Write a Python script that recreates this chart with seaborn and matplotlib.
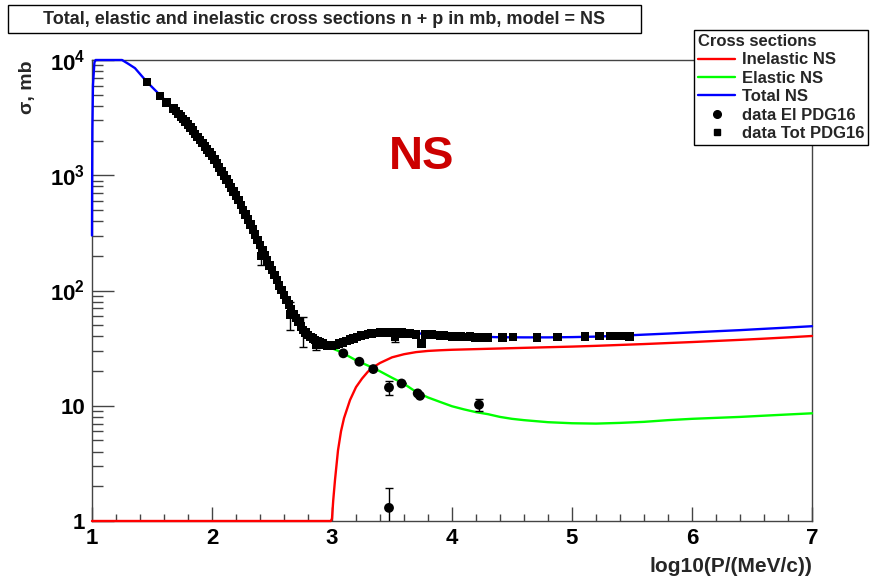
import numpy as np
import pandas as pd
import matplotlib
matplotlib.use("Agg")
import matplotlib.pyplot as plt
import seaborn as sns
from matplotlib.lines import Line2D
from matplotlib.patches import Rectangle
from matplotlib.ticker import FixedLocator, MultipleLocator, FixedFormatter, NullFormatter

# ---------------- data ----------------
inel_x = [1.0, 2.0, 2.99, 3.0, 3.01, 3.025, 3.05, 3.075, 3.1, 3.15, 3.2, 3.25, 3.3, 3.35,
          3.4, 3.5, 3.6, 3.7, 3.8, 3.9, 4.0, 4.2, 4.4, 4.6, 4.8, 5.0, 5.2, 5.4, 5.6,
          5.8, 6.0, 6.2, 6.4, 6.6, 6.8, 7.0]
inel_y = [1.0, 1.0, 1.0, 1.05, 1.5, 2.27, 4.1, 6.0, 7.8, 11.2, 14.5, 17.2, 19.8, 21.8,
          23.5, 26.3, 28.0, 29.2, 29.9, 30.3, 30.6, 31.0, 31.4, 31.8, 32.2, 32.6, 33.1, 33.7, 34.3,
          35.0, 35.7, 36.5, 37.3, 38.2, 39.2, 40.3]

el_x = [2.95, 3.0, 3.05, 3.1, 3.15, 3.2, 3.3, 3.4, 3.5, 3.6, 3.7, 3.8, 3.9, 4.0, 4.1,
        4.2, 4.3, 4.4, 4.5, 4.6, 4.8, 5.0, 5.2, 5.4, 5.6, 5.8, 6.0, 6.2, 6.4, 6.6, 6.8, 7.0]
el_y = [33.5, 31.5, 30.0, 28.3, 26.5, 24.8, 22.3, 19.9, 17.5, 15.5, 13.2, 11.8, 10.8, 9.9, 9.3,
        8.8, 8.45, 8.0, 7.7, 7.5, 7.2, 7.05, 7.0, 7.1, 7.25, 7.5, 7.7, 7.85, 8.0, 8.2, 8.4, 8.6]

tot_x = [1.0, 1.001, 1.003, 1.008, 1.02, 1.03, 1.1, 1.2, 1.25, 1.3, 1.358, 1.458, 1.583, 1.667,
         1.8, 2.0, 2.2, 2.3, 2.4, 2.5, 2.6, 2.7, 2.8, 2.9, 2.95, 3.0, 3.1, 3.2, 3.3, 3.4, 3.5,
         3.6, 3.7, 3.8, 3.9, 4.0, 4.2, 4.4, 4.6, 4.8, 5.0, 5.2, 5.4, 5.6, 5.8, 6.0, 6.2, 6.4,
         6.6, 6.8, 7.0]
tot_y = [300, 800, 2500, 6000, 9500, 10000, 10000, 10000, 10000, 9300, 8500, 6445, 4775, 3831,
         2754, 1479, 668, 411, 248, 150, 91.4, 57.7, 41.2, 35.3, 34.0, 33.5, 35.8, 39.0, 42.0, 43.2, 43.5,
         43.2, 42.6, 41.8, 41.1, 40.5, 39.8, 39.3, 39.2, 39.2, 39.4, 39.8, 40.5, 41.4, 42.3, 43.3, 44.3, 45.3,
         46.5, 47.7, 49.0]

# data Tot PDG16
dtot_x = [1.458, 1.567, 1.622, 1.678,
          1.70, 1.72, 1.74, 1.76, 1.78, 1.80, 1.82, 1.84, 1.86, 1.88, 1.90, 1.92, 1.94, 1.96, 1.98,
          2.00, 2.02, 2.04, 2.06, 2.08, 2.10, 2.12, 2.14, 2.16, 2.18, 2.20, 2.22, 2.24, 2.26, 2.28,
          2.30, 2.32, 2.34, 2.36, 2.38, 2.40, 2.42, 2.44, 2.46, 2.48, 2.50, 2.52, 2.54, 2.56, 2.58,
          2.60, 2.62, 2.64, 2.66, 2.68, 2.70, 2.72, 2.74, 2.76, 2.78, 2.80, 2.82, 2.84, 2.86, 2.88,
          2.90, 2.92, 2.94, 2.96, 2.98,
          3.00, 3.03, 3.06, 3.09, 3.12, 3.15, 3.18, 3.21, 3.24, 3.27, 3.30, 3.33, 3.37, 3.40, 3.43, 3.46,
          3.52, 3.55, 3.58, 3.62, 3.65, 3.70, 3.747, 3.78, 3.80, 3.83, 3.86, 3.90, 3.93, 3.96, 4.00,
          4.04, 4.07, 4.11, 4.15, 4.19, 4.23, 4.30, 4.42, 4.51, 4.71, 4.88, 5.11, 5.23, 5.32, 5.35,
          5.38, 5.43, 5.48]
dtot_y = [6445, 4870, 4295, 3812,
          3597, 3412, 3236, 3069, 2911, 2754, 2588, 2432, 2286, 2148, 2018, 1897, 1782, 1675, 1574,
          1479, 1371, 1265, 1167, 1079, 995, 918, 849, 783, 723, 668, 610, 552, 501, 454,
          411, 373, 338, 305, 275, 248, 224, 202, 182, 165, 150, 136, 123, 111, 101,
          91.4, 83.0, 75.3, 68.4, 62.7, 57.7, 53.1, 48.5, 45.5, 43.0, 41.2, 39.6, 38.3, 37.2, 36.2,
          35.3, 34.5, 33.8, 33.3, 33.0,
          33.2, 33.6, 34.5, 35.5, 36.5, 37.5, 38.5, 39.5, 40.5, 41.2, 41.8, 42.3, 42.8, 43.0, 43.2, 43.0,
          43.5, 42.5, 43.8, 42.0, 42.5, 41.5, 34.8, 41.5, 41.8, 41.5, 41.0, 40.8, 40.5, 40.2, 40.0,
          40.3, 39.8, 39.5, 39.8, 39.2, 39.0, 39.3, 39.0, 39.5, 39.2, 39.6, 40.0, 40.2, 40.3, 40.3,
          40.3, 40.2, 39.8]

# total data points carrying visible error bars
etot_x = [2.41, 2.65, 2.76, 2.87, 3.525]
etot_y = [200, 62, 45.5, 34, 39.5]
etot_err = [35, 17, 13, 3.8, 4]

# data El PDG16
del_x = [3.094, 3.228, 3.344, 3.475, 3.475, 3.58, 3.714, 3.733, 4.225]
del_y = [28.5, 24.1, 20.8, 14.4, 1.30, 15.6, 12.8, 12.2, 10.2]
del_err = [0, 0, 0, 2.1, 0.62, 0, 0, 0, 1.25]

x_ticks = [1, 2, 3, 4, 5, 6, 7]
y_ticks = [1, 10, 100, 1000, 10000]
y_ticklabels = ["1", "10", r"$\mathbf{10^{2}}$", r"$\mathbf{10^{3}}$", r"$\mathbf{10^{4}}$"]

title = "Total, elastic and inelastic cross sections n + p in mb, model = NS"
legend_labels = ["Inelastic NS", "Elastic NS", "Total NS", "data El PDG16", "data Tot PDG16"]

# ---------------- style ----------------
sns.set_theme(style="white")
plt.rcParams['font.family'] = ['Liberation Sans', 'DejaVu Sans']
plt.rcParams['font.weight'] = 'bold'
plt.rcParams['mathtext.fontset'] = 'custom'
plt.rcParams['mathtext.rm'] = 'Liberation Sans:bold'
plt.rcParams['mathtext.bf'] = 'Liberation Sans:bold'
plt.rcParams['mathtext.it'] = 'Liberation Sans:bold:italic'

W, H = 871, 577
fig = plt.figure(figsize=(W / 100, H / 100), dpi=100)
fig.patch.set_facecolor('white')
ax = fig.add_axes([92 / W, 1 - 521 / H, (812 - 92) / W, (521 - 60) / H])
ax.set_facecolor('white')

RED, GREEN, BLUE = '#ff0000', '#00ff00', '#0000ff'
lw = 1.7
sns.lineplot(x=inel_x, y=inel_y, ax=ax, color=RED, lw=lw, estimator=None, sort=False, clip_on=False, zorder=3)
sns.lineplot(x=el_x, y=el_y, ax=ax, color=GREEN, lw=lw, estimator=None, sort=False, clip_on=False, zorder=3)
sns.lineplot(x=tot_x, y=tot_y, ax=ax, color=BLUE, lw=lw, estimator=None, sort=False, clip_on=False, zorder=4)

ax.errorbar(etot_x, etot_y, yerr=etot_err, fmt='none', ecolor='black', elinewidth=1.0, capsize=3, zorder=5)
ax.errorbar(del_x, del_y, yerr=del_err, fmt='none', ecolor='black', elinewidth=1.0, capsize=3, zorder=5)
sns.scatterplot(x=dtot_x, y=dtot_y, ax=ax, marker='s', s=38, color='black', edgecolor='none', zorder=6)
sns.scatterplot(x=etot_x, y=etot_y, ax=ax, marker='s', s=38, color='black', edgecolor='none', zorder=6)
sns.scatterplot(x=del_x, y=del_y, ax=ax, marker='o', s=50, color='black', edgecolor='none', zorder=6)

ax.set_yscale('log')
ax.set_xlim(1, 7)
ax.set_ylim(1, 1e4)

# ticks (ROOT style: inside, left/bottom only)
ax.xaxis.set_major_locator(FixedLocator(x_ticks))
ax.xaxis.set_minor_locator(MultipleLocator(0.2))
ax.set_xticklabels([str(t) for t in x_ticks])
minor_y = [m * 10 ** e for e in range(0, 4) for m in range(2, 10)]
ax.yaxis.set_major_locator(FixedLocator(y_ticks))
ax.yaxis.set_minor_locator(FixedLocator(minor_y))
ax.yaxis.set_major_formatter(FixedFormatter(y_ticklabels))
ax.yaxis.set_minor_formatter(NullFormatter())

axc = '#444444'
ax.tick_params(axis='x', which='major', direction='in', length=10, width=1, color=axc,
               bottom=True, top=False, labelsize=16, pad=5, labelcolor='black')
ax.tick_params(axis='x', which='minor', direction='in', length=5, width=1, color=axc, bottom=True, top=False)
ax.tick_params(axis='y', which='major', direction='in', length=16, width=1, color=axc,
               left=True, right=False, labelsize=16, pad=5, labelcolor='black')
ax.tick_params(axis='y', which='minor', direction='in', length=8, width=1, color=axc, left=True, right=False)
for lab in ax.get_xticklabels() + ax.get_yticklabels():
    lab.set_fontweight('bold')
for sp in ax.spines.values():
    sp.set_visible(True)
    sp.set_color(axc)
    sp.set_linewidth(1.0)
ax.grid(False)

ax.set_xlabel('log10(P/(MeV/c))', loc='right', fontsize=15, fontweight='bold', labelpad=6)
ax.set_ylabel('σ, mb', loc='top', fontsize=14, fontweight='bold', labelpad=10)

# "NS" label
ax.text(422 / W, 1 - 157 / H, 'NS', transform=fig.transFigure, ha='center', va='center',
        fontsize=34, fontweight='bold', color='#cc0000')

# title box
fig.patches.append(Rectangle((8 / W, 1 - 33 / H), (641 - 8) / W, 28 / H, transform=fig.transFigure,
                             facecolor='white', edgecolor='black', linewidth=1.0, zorder=10))
fig.text((8 + 641) / 2 / W, 1 - 19 / H, title, ha='center', va='center', fontsize=13,
         fontweight='bold', zorder=11)

# legend
handles = [Line2D([], [], color=RED, lw=lw),
           Line2D([], [], color=GREEN, lw=lw),
           Line2D([], [], color=BLUE, lw=lw),
           Line2D([], [], color='black', marker='o', ls='none', markersize=5.5),
           Line2D([], [], color='black', marker='s', ls='none', markersize=5)]
leg = fig.legend(handles, legend_labels, loc='upper left', bbox_to_anchor=(694 / W, 1 - 30 / H),
                 title='Cross sections', alignment='left', frameon=True, fancybox=False,
                 edgecolor='black', framealpha=1, fontsize=12, borderpad=0.25, labelspacing=0.2,
                 handlelength=2.2, handletextpad=0.4, borderaxespad=0,
                 title_fontproperties={'weight': 'bold', 'size': 12})
leg.get_frame().set_linewidth(1.0)
leg.set_zorder(20)

fig.savefig('out.png', dpi=100, facecolor='white')
